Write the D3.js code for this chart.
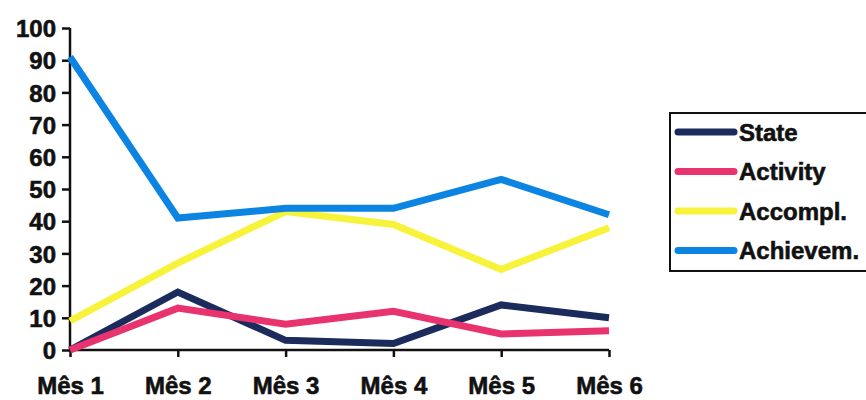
<!DOCTYPE html>
<html>
<head>
<meta charset="utf-8">
<script src="https://cdn.jsdelivr.net/npm/d3@7"></script>
<style>
  html, body { margin: 0; padding: 0; background: #fff; }
  svg text { font-family: "Liberation Sans", Arial, sans-serif; font-weight: bold; fill: #111;
             stroke: #111; stroke-width: 0.6px; }
</style>
</head>
<body>
<svg id="chart" width="866" height="400"></svg>
<script>
// Monthly series
const months = ["Mês 1", "Mês 2", "Mês 3", "Mês 4", "Mês 5", "Mês 6"];
const seriesNames = ["State", "Activity", "Accompl.", "Achievem."];
const stateValues = [0, 18, 3, 2, 14, 10];
const activityValues = [0, 13, 8, 12, 5, 6];
const accomplValues = [9, 27, 43, 39, 25, 38];
const achievemValues = [91, 41, 44, 44, 53, 42];
const yTicks = [0, 10, 20, 30, 40, 50, 60, 70, 80, 90, 100];
const colors = ["#1b2c5c", "#e8336f", "#f7f23a", "#0b84e2"];

const svg = d3.select("#chart");
const x = d3.scalePoint().domain(months).range([70, 609]);
const y = d3.scaleLinear().domain([0, 100]).range([350, 28]);

// Axes
const yAxis = svg.append("g").attr("transform", "translate(70,0)")
  .call(d3.axisLeft(y).tickValues(yTicks).tickSize(8).tickPadding(6));
const xAxis = svg.append("g").attr("transform", "translate(0,350)")
  .call(d3.axisBottom(x).tickSize(7).tickPadding(20));
[yAxis, xAxis].forEach(g => {
  g.select(".domain").attr("stroke", "#111").attr("stroke-width", 2.5);
  g.selectAll(".tick line").attr("stroke", "#111").attr("stroke-width", 2.5);
  g.selectAll("text").style("font-size", "24px").attr("fill", "#111");
});
yAxis.selectAll("text").attr("dy", "0.36em");
// axis lines without outer tick stubs
yAxis.select(".domain").attr("d", `M0,${y(100)}V${y(0)}`);
xAxis.select(".domain").attr("d", `M${x(months[0])},0H${x(months[5])}`);

// Lines
const data = [stateValues, activityValues, accomplValues, achievemValues];
const line = d3.line().x((d, i) => x(months[i])).y(d => y(d));
const drawOrder = [2, 3, 0, 1];
drawOrder.forEach(k => {
  svg.append("path")
    .attr("d", line(data[k]))
    .attr("fill", "none")
    .attr("stroke", colors[k])
    .attr("stroke-width", 7)
    .attr("stroke-linejoin", "miter");
});

// Legend
const lg = svg.append("g");
lg.append("rect").attr("x", 670).attr("y", 113).attr("width", 200).attr("height", 158)
  .attr("fill", "#fff").attr("stroke", "#111").attr("stroke-width", 2);
seriesNames.forEach((name, i) => {
  const cy = 132 + i * 39.5;
  lg.append("line").attr("x1", 678).attr("x2", 734).attr("y1", cy).attr("y2", cy)
    .attr("stroke", colors[i]).attr("stroke-width", 7).attr("stroke-linecap", "round");
  lg.append("text").attr("x", 739).attr("y", cy).attr("dy", "0.36em")
    .style("font-size", "24px").text(name);
});
</script>
</body>
</html>
